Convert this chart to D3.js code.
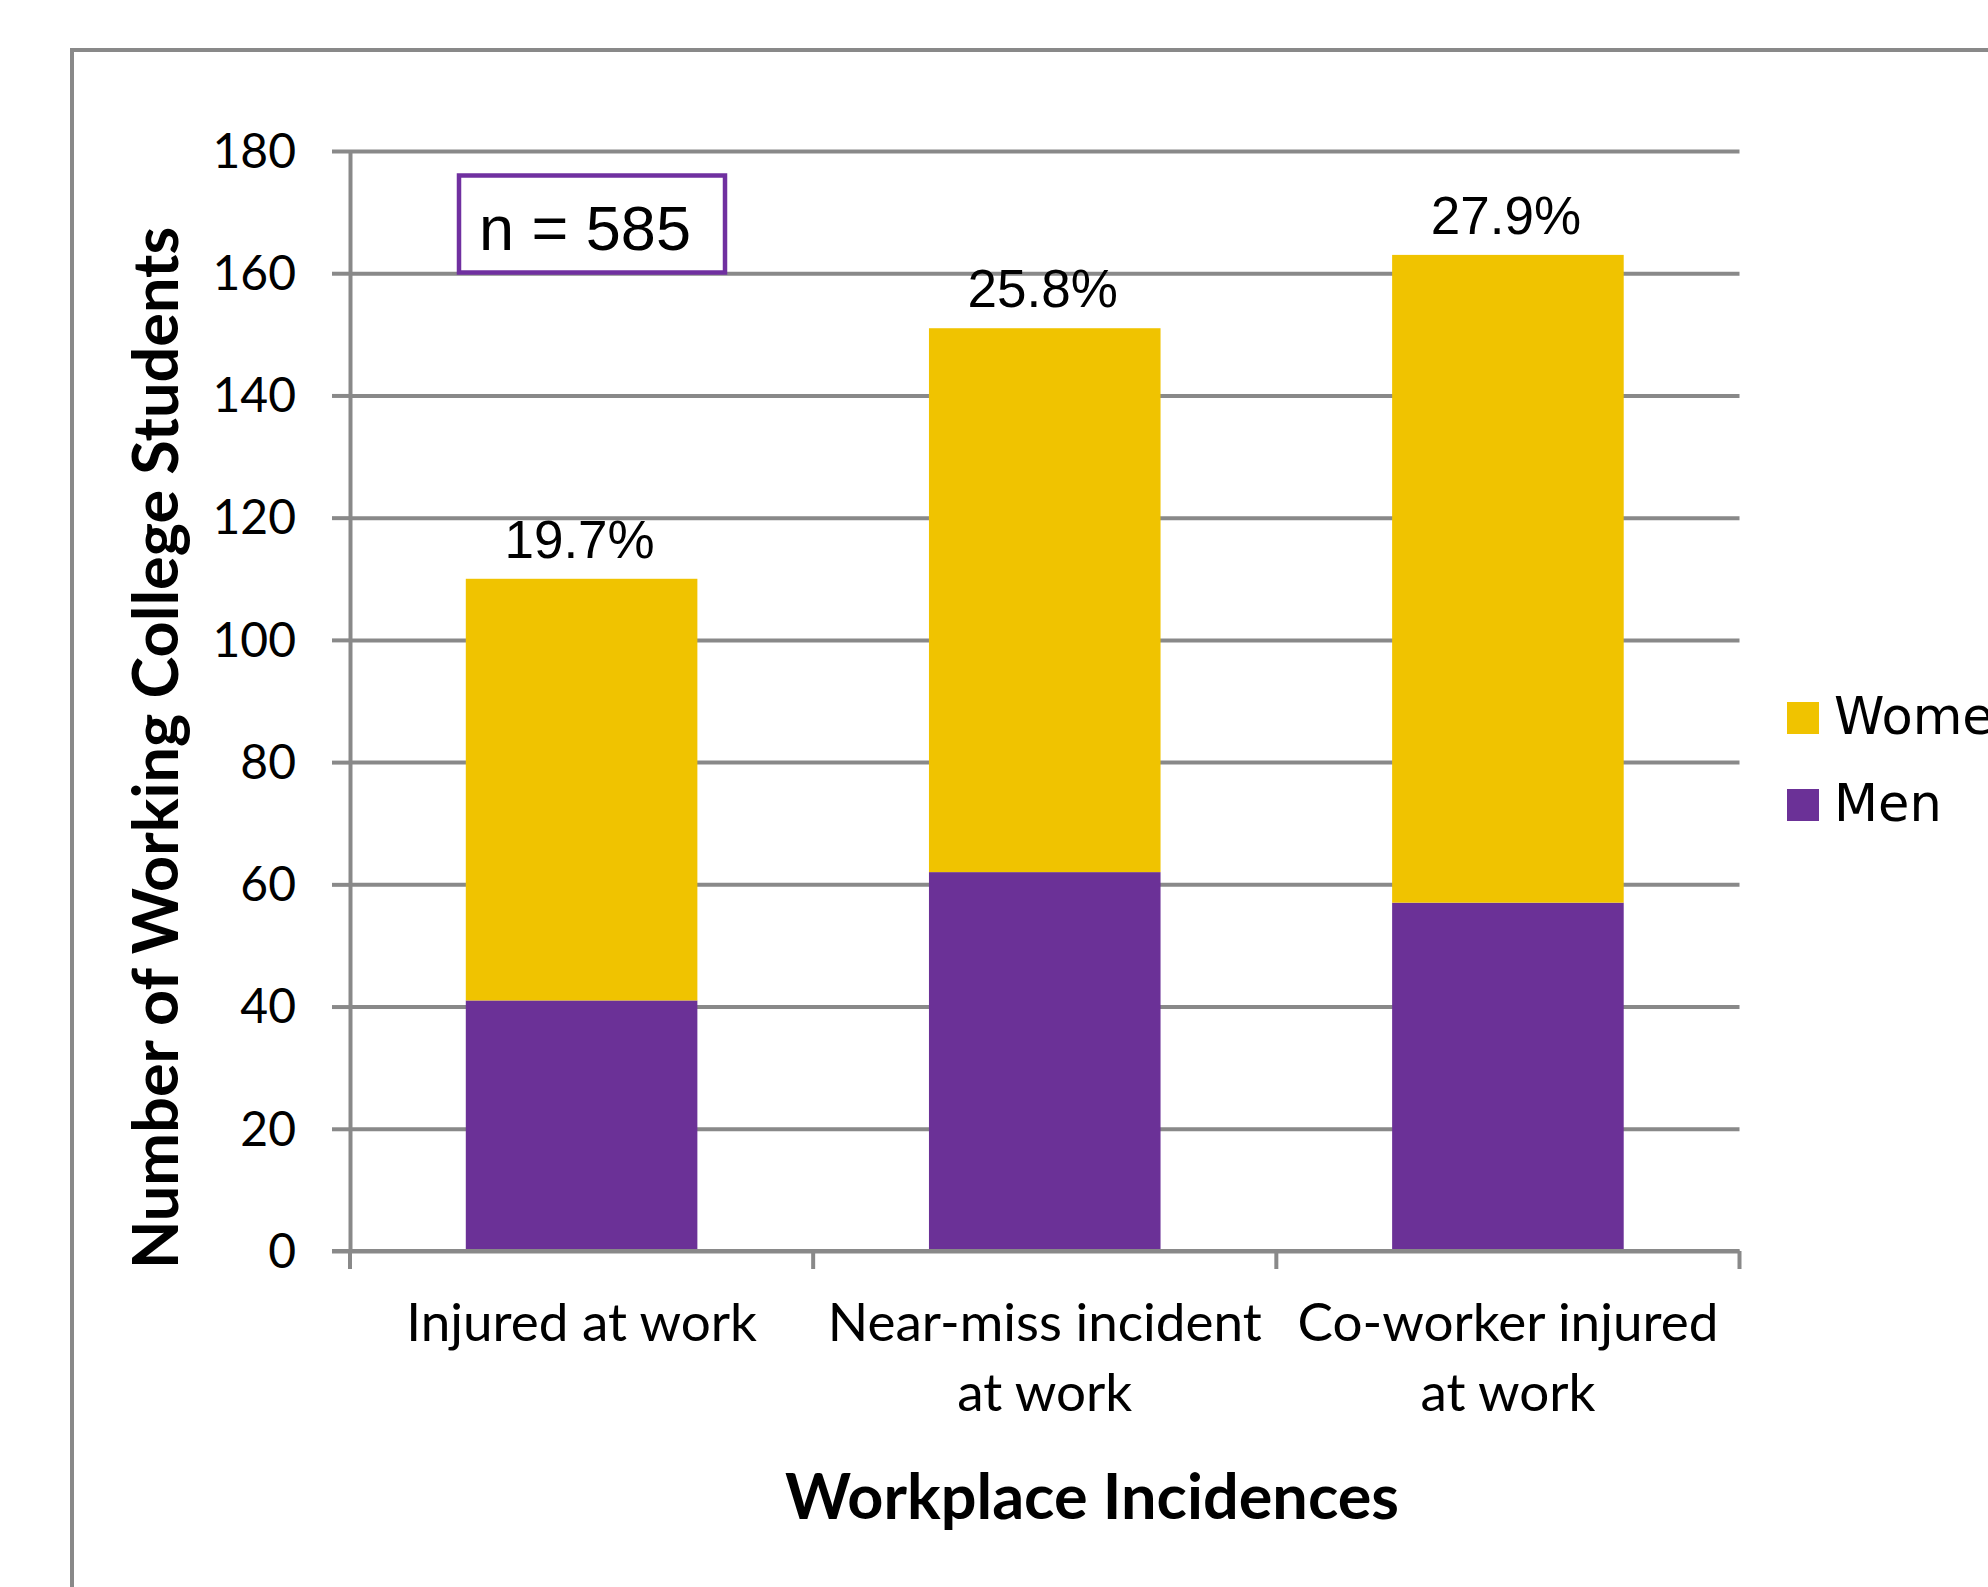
<!DOCTYPE html>
<html>
<head>
<meta charset="utf-8">
<script src="https://cdn.jsdelivr.net/npm/d3@7"></script>
<style>
  html, body { margin: 0; padding: 0; background: #fff; overflow: hidden; }
  svg { display: block; }
</style>
</head>
<body>
<svg id="chart" width="1988" height="1587"></svg>
<script>
// Survey of working college students: workplace incidences by gender
const categories = ["Injured at work", "Near-miss incident at work", "Co-worker injured at work"];
const categoryLines = [["Injured at work"], ["Near-miss incident", "at work"], ["Co-worker injured", "at work"]];
const men = [41, 62, 57];
const women = [69, 89, 106];
const percentLabels = ["19.7%", "25.8%", "27.9%"];
const yTicks = [0, 20, 40, 60, 80, 100, 120, 140, 160, 180];
const seriesNames = ["Women", "Men"];
const sampleNote = "n = 585";

const colors = { Men: "#6B3197", Women: "#F0C300" };
const gridColor = "#898989";
const bodyFont = "Lato, 'Open Sans', sans-serif";

const svg = d3.select("#chart");

// plot area
const plotLeft = 350, plotRight = 1739.5, plotTop = 151, plotBottom = 1251;

const x = d3.scaleBand().domain(categories).range([plotLeft, plotRight])
  .paddingInner(0.5).paddingOuter(0.25);
const y = d3.scaleLinear().domain([0, 180]).range([plotBottom, plotTop]);

// outer frame
svg.append("rect")
  .attr("x", 72).attr("y", 50)
  .attr("width", 2100).attr("height", 1700)
  .attr("fill", "none").attr("stroke", gridColor).attr("stroke-width", 4);

// gridlines
const grid = svg.append("g").attr("transform", `translate(${plotLeft},0)`)
  .call(d3.axisLeft(y).tickValues(yTicks).tickSize(-(plotRight - plotLeft)).tickFormat(""));
grid.select(".domain").remove();
grid.selectAll(".tick line").attr("stroke", gridColor).attr("stroke-width", 4);

// y axis with outward ticks and labels
const yAxis = svg.append("g").attr("transform", `translate(${plotLeft},0)`)
  .call(d3.axisLeft(y).tickValues(yTicks).tickSize(18).tickSizeOuter(0).tickPadding(36));
yAxis.select(".domain").attr("stroke", gridColor).attr("stroke-width", 4);
yAxis.selectAll(".tick line").attr("stroke", gridColor).attr("stroke-width", 4);
yAxis.selectAll(".tick text")
  .attr("font-family", bodyFont).attr("font-size", 48).attr("fill", "#000")
  .attr("dy", "0.34em");

// stacked bars
const rows = categories.map((c, i) => ({ category: c, Men: men[i], Women: women[i] }));
const stack = d3.stack().keys(["Men", "Women"])(rows);
svg.append("g").selectAll("g").data(stack).join("g")
  .attr("fill", d => colors[d.key])
  .selectAll("rect").data(d => d).join("rect")
  .attr("x", d => x(d.data.category))
  .attr("width", x.bandwidth())
  .attr("y", d => y(d[1]))
  .attr("height", d => y(d[0]) - y(d[1]));

// bottom axis line and category separators
svg.append("line")
  .attr("x1", plotLeft - 18).attr("x2", plotRight)
  .attr("y1", plotBottom).attr("y2", plotBottom)
  .attr("stroke", gridColor).attr("stroke-width", 4);
const step = x.step();
const bounds = [plotLeft].concat(categories.map(c => x(c) + x.bandwidth() + step * x.paddingInner() / 2));
bounds[bounds.length - 1] = plotRight;
svg.append("g").selectAll("line").data(bounds).join("line")
  .attr("x1", d => d).attr("x2", d => d)
  .attr("y1", plotBottom).attr("y2", plotBottom + 18)
  .attr("stroke", gridColor).attr("stroke-width", 4);

// category labels
svg.append("g").selectAll("text").data(categories).join("text")
  .attr("x", d => x(d) + x.bandwidth() / 2)
  .attr("y", 1341)
  .attr("text-anchor", "middle")
  .attr("font-family", bodyFont).attr("font-size", 53).attr("fill", "#000")
  .each(function (d, i) {
    d3.select(this).selectAll("tspan").data(categoryLines[i]).join("tspan")
      .attr("x", x(d) + x.bandwidth() / 2)
      .attr("dy", (t, j) => j === 0 ? 0 : 70)
      .text(t => t);
  });

// percentage labels above each bar
svg.append("g").selectAll("text").data(rows).join("text")
  .attr("x", d => x(d.category) + x.bandwidth() / 2 - 2)
  .attr("y", d => y(d.Men + d.Women) - 21)
  .attr("text-anchor", "middle")
  .attr("font-family", "'Liberation Sans', Arial, sans-serif")
  .attr("font-size", 53).attr("fill", "#000")
  .text((d, i) => percentLabels[i]);

// sample size box
svg.append("rect")
  .attr("x", 459).attr("y", 175.5)
  .attr("width", 266).attr("height", 97)
  .attr("fill", "#fff").attr("stroke", "#7030A0").attr("stroke-width", 4.5);
svg.append("text")
  .attr("x", 479).attr("y", 250)
  .attr("font-family", "'Liberation Sans', Arial, sans-serif")
  .attr("font-size", 63).attr("fill", "#000")
  .text(sampleNote);

// axis titles
svg.append("text")
  .attr("transform", `translate(178,${(228 + 1268) / 2}) rotate(-90)`)
  .attr("text-anchor", "middle")
  .attr("font-family", bodyFont).attr("font-weight", 700)
  .attr("font-size", 63).attr("fill", "#000")
  .text("Number of Working College Students");
svg.append("text")
  .attr("x", 1092).attr("y", 1519)
  .attr("text-anchor", "middle")
  .attr("font-family", bodyFont).attr("font-weight", 700)
  .attr("font-size", 63).attr("fill", "#000")
  .text("Workplace Incidences");

// legend
const legend = svg.append("g").selectAll("g").data(seriesNames).join("g")
  .attr("transform", (d, i) => `translate(1787,${702 + i * 87})`);
legend.append("rect").attr("width", 32).attr("height", 32)
  .attr("fill", d => colors[d]);
legend.append("text")
  .attr("x", 47).attr("y", 32)
  .attr("font-family", "'DejaVu Sans', sans-serif")
  .attr("font-size", 51).attr("fill", "#000")
  .text(d => d);
</script>
</body>
</html>
